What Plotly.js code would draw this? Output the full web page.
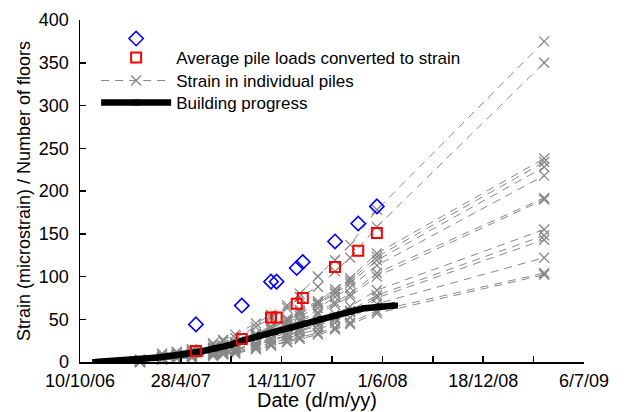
<!DOCTYPE html>
<html>
<head>
<meta charset="utf-8">
<script src="https://cdn.plot.ly/plotly-3.0.1.min.js"></script>
<style>html,body{margin:0;padding:0;background:#fff;}#chart{width:629px;height:412px;}</style>
</head>
<body>
<div id="chart"></div>
<script>
// Dates of measurement for individual piles (last entry = extrapolated value)
var pileDates = ['2007-02-06','2007-03-22','2007-04-20','2007-05-20','2007-07-01','2007-07-21','2007-08-14','2007-09-24','2007-10-24','2007-11-25','2007-12-20','2008-01-25','2008-02-28','2008-03-29','2008-05-21','2009-04-18'];
var pile1  = [2, 10, 12, 15, 22, 26, 32, 45, 55, 66, 80, 100, 119, 137, 178, 375];
var pile2  = [0, 8, 11, 14, 20, 24, 28, 41, 52, 63, 76, 88, 106, 122, 158, 350];
var pile3  = [1, 6, 9, 12, 17, 19, 23, 33, 42, 51, 61, 71, 85, 98, 127, 238];
var pile4  = [-2, 6, 8, 11, 16, 18, 22, 32, 40, 49, 59, 69, 82, 95, 123, 234];
var pile5  = [3, 6, 8, 11, 15, 18, 21, 31, 39, 48, 57, 67, 80, 92, 119, 228];
var pile6  = [0, 5, 8, 10, 15, 17, 20, 29, 37, 45, 54, 63, 76, 87, 113, 218];
var pile7  = [1, 5, 7, 9, 14, 16, 19, 27, 34, 42, 50, 58, 70, 80, 104, 192];
var pile8  = [-1, 5, 7, 9, 13, 15, 18, 26, 33, 40, 48, 56, 67, 77, 100, 190];
var pile9  = [2, 4, 6, 8, 11, 13, 15, 22, 28, 34, 40, 47, 56, 65, 84, 155];
var pile10 = [0, 4, 5, 7, 10, 12, 14, 20, 26, 31, 37, 44, 52, 60, 78, 148];
var pile11 = [-3, 4, 5, 7, 10, 11, 14, 20, 25, 30, 36, 42, 50, 58, 75, 143];
var pile12 = [1, 3, 5, 6, 9, 10, 12, 18, 22, 27, 33, 38, 46, 52, 68, 122];
var pile13 = [0, 3, 4, 5, 8, 9, 11, 16, 20, 24, 29, 34, 40, 46, 60, 104];
var pile14 = [-1, 3, 4, 5, 7, 9, 10, 15, 19, 23, 27, 32, 38, 44, 57, 102];
var piles = [pile1, pile2, pile3, pile4, pile5, pile6, pile7, pile8, pile9, pile10, pile11, pile12, pile13, pile14];

// Average pile loads and unlabeled (blue) series
var avgDates = ['2007-05-28','2007-08-27','2007-10-24','2007-11-04','2007-12-14','2007-12-26','2008-02-28','2008-04-14','2008-05-21'];
var blueValues = [44, 66, 94, 94, 110, 117, 141, 162, 182];
var avgValues  = [13, 27, 52, 52, 68, 75, 111, 130, 151];

// Building progress (number of floors)
var buildDates = ['2006-11-09','2006-12-09','2007-01-07','2007-02-06','2007-03-08','2007-04-07','2007-05-06','2007-06-05','2007-07-05','2007-08-04','2007-09-02','2007-10-02','2007-11-01','2007-12-01','2007-12-30','2008-01-29','2008-02-28','2008-03-29','2008-04-27','2008-05-27','2008-06-26'];
var buildFloors = [0, 1, 2, 3, 5, 7, 9, 12, 16, 20, 26, 31, 35, 40, 45, 50, 54, 59, 63, 65, 66];

var xTickStart = '2006-10-10';
var xRange = ['2006-10-10', '2009-07-06'];
var xTitle = 'Date (d/m/yy)';
var yTitle = 'Strain (microstrain) / Number of floors';

var DAY = 86400000;
var FONT = 'Liberation Sans, Arial, sans-serif';
var data = [];
piles.forEach(function (vals, i) {
  data.push({
    type: 'scatter', mode: 'lines+markers',
    x: pileDates, y: vals,
    name: 'Strain in individual piles', legend: 'legend3',
    legendgroup: 'piles', showlegend: i === 0,
    line: {color: '#878787', width: 1, dash: '8px,6px'},
    marker: {symbol: 'x-thin-open', size: 10, color: '#878787', line: {color: '#878787', width: 1.3}},
    cliponaxis: false
  });
});
data.push({
  type: 'scatter', mode: 'lines+markers',
  x: buildDates, y: buildFloors,
  name: 'Building progress', legend: 'legend4',
  line: {color: '#000', width: 6.5},
  marker: {symbol: 'square', size: 6, color: '#000'}
});
data.push({
  type: 'scatter', mode: 'markers',
  x: avgDates, y: avgValues,
  name: 'Average pile loads converted to strain', legend: 'legend2',
  marker: {symbol: 'square-open', size: 10, color: '#ff0000', line: {color: '#ff0000', width: 2}}
});
data.push({
  type: 'scatter', mode: 'markers',
  x: avgDates, y: blueValues,
  name: '', legend: 'legend',
  marker: {symbol: 'diamond-open', size: 11, color: '#0000ff', line: {color: '#0000ff', width: 1.6}}
});

function legendAt(centerPx) {
  return {x: 0.032, y: 1 - (centerPx - 20) / 342, xanchor: 'left', yanchor: 'middle',
          bgcolor: 'rgba(0,0,0,0)', font: {family: FONT, size: 17, color: '#000'}, itemwidth: 70};
}

var layout = {
  width: 629, height: 412,
  margin: {l: 80, r: 45, t: 20, b: 50},
  paper_bgcolor: '#fff', plot_bgcolor: '#fff',
  font: {family: FONT, size: 17, color: '#000'},
  showlegend: true,
  legend: legendAt(39),
  legend2: legendAt(58),
  legend3: legendAt(81),
  legend4: legendAt(103),
  xaxis: {
    type: 'date', range: xRange, tick0: xTickStart, dtick: 200 * DAY,
    tickformat: '%-d/%-m/%y', ticks: 'inside', ticklen: 6, tickwidth: 1.5, tickcolor: '#000',
    minor: {dtick: 100 * DAY, tick0: xTickStart, ticks: 'inside', ticklen: 6, tickwidth: 1.5, tickcolor: '#000'},
    showline: true, linecolor: '#000', linewidth: 1.5, showgrid: false, zeroline: false,
    tickfont: {family: FONT, size: 18}, ticklabeloverflow: 'allow', ticklabelstandoff: 2
  },
  yaxis: {
    range: [0, 400], dtick: 50, ticks: 'inside', ticklen: 6, tickwidth: 1.5, tickcolor: '#000',
    showline: true, linecolor: '#000', linewidth: 1.5, showgrid: false, zeroline: false,
    tickfont: {family: FONT, size: 18}, ticklabelstandoff: 6,
    title: {text: yTitle, font: {family: FONT, size: 18}, standoff: 3}
  },
  annotations: [{
    text: xTitle, xref: 'paper', yref: 'paper', x: 0.47, y: 0, yshift: -25,
    xanchor: 'center', yanchor: 'top', showarrow: false,
    font: {family: FONT, size: 20, color: '#000'}
  }]
};

Plotly.newPlot('chart', data, layout, {displayModeBar: false, staticPlot: true});
</script>
</body>
</html>
